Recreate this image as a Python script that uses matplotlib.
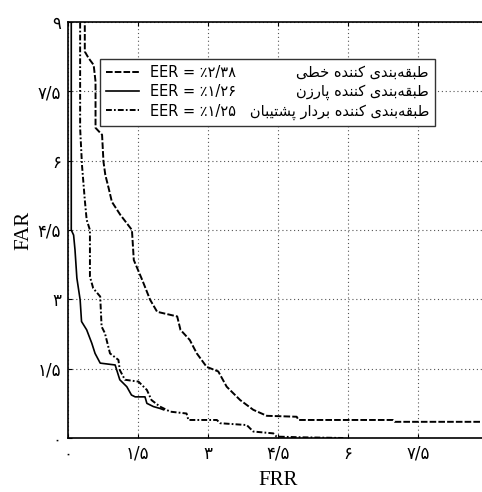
import numpy as np
import matplotlib
matplotlib.use('Agg')
import matplotlib.pyplot as plt

# DET curves (FRR on x, FAR on y)
lin_x = [0.36, 0.36, 0.44, 0.55, 0.59, 0.59, 0.73, 0.76, 0.80, 0.87, 0.94, 1.12, 1.34, 1.37,
         1.41, 1.59, 1.76, 1.91, 2.34, 2.41, 2.61, 2.76, 2.97, 3.22, 3.40, 3.69, 3.97, 4.26,
         4.90, 4.94, 6.96, 7.00, 9.00]
lin_y = [9.60, 8.36, 8.22, 8.07, 7.71, 6.71, 6.56, 5.98, 5.69, 5.41, 5.11, 4.83, 4.54, 4.50,
         3.85, 3.42, 2.99, 2.73, 2.63, 2.34, 2.12, 1.83, 1.54, 1.44, 1.11, 0.82, 0.61, 0.48,
         0.46, 0.39, 0.39, 0.35, 0.35]

parzen_x = [0.07, 0.07, 0.12, 0.15, 0.19, 0.26, 0.29, 0.40, 0.51, 0.58, 0.69, 1.01, 1.11,
            1.26, 1.36, 1.44, 1.65, 1.69, 1.83, 1.97, 2.05]
parzen_y = [9.60, 4.50, 4.39, 4.07, 3.46, 2.99, 2.52, 2.34, 2.05, 1.83, 1.62, 1.58, 1.26,
            1.11, 0.93, 0.89, 0.89, 0.75, 0.68, 0.64, 0.61]

svm_x = [0.26, 0.26, 0.30, 0.36, 0.40, 0.47, 0.47, 0.54, 0.69, 0.72, 0.79, 0.90, 1.08, 1.11,
         1.22, 1.51, 1.69, 1.79, 1.97, 2.19, 2.54, 2.58, 3.19, 3.26, 3.83, 3.97, 4.40, 4.47,
         5.00, 5.90]
svm_y = [9.60, 6.70, 5.90, 5.15, 4.72, 4.50, 3.49, 3.24, 3.06, 2.41, 2.27, 1.83, 1.69, 1.47,
         1.26, 1.22, 1.04, 0.82, 0.68, 0.57, 0.53, 0.39, 0.39, 0.32, 0.28, 0.14, 0.10, 0.03,
         0.015, 0.0]

names = ['طبقه‌بندی کننده خطی', 'طبقه‌بندی کننده پارزن', 'طبقه‌بندی کننده بردار پشتیبان']
eer = ['EER = ٪۲/۳۸', 'EER = ٪۱/۲۶', 'EER = ٪۱/۲۵']
ticks = [0, 1.5, 3, 4.5, 6, 7.5, 9]
tick_labels = ['۰', '۱/۵', '۳', '۴/۵', '۶', '۷/۵', '۹']

# matplotlib has no arabic shaping, so pick the joined forms by hand
FORMS = {
    'ا': ('\uFE8D', '\uFE8E', None, None),
    'ب': ('\uFE8F', '\uFE90', '\uFE91', '\uFE92'),
    'پ': ('\uFB56', '\uFB57', '\uFB58', '\uFB59'),
    'ت': ('\uFE95', '\uFE96', '\uFE97', '\uFE98'),
    'خ': ('\uFEA5', '\uFEA6', '\uFEA7', '\uFEA8'),
    'د': ('\uFEA9', '\uFEAA', None, None),
    'ر': ('\uFEAD', '\uFEAE', None, None),
    'ز': ('\uFEAF', '\uFEB0', None, None),
    'ش': ('\uFEB5', '\uFEB6', '\uFEB7', '\uFEB8'),
    'ط': ('\uFEC1', '\uFEC2', '\uFEC3', '\uFEC4'),
    'ق': ('\uFED5', '\uFED6', '\uFED7', '\uFED8'),
    'ک': ('\uFB8E', '\uFB8F', '\uFB90', '\uFB91'),
    'ن': ('\uFEE5', '\uFEE6', '\uFEE7', '\uFEE8'),
    'ه': ('\uFEE9', '\uFEEA', '\uFEEB', '\uFEEC'),
    'ی': ('\uFBFC', '\uFBFD', '\uFBFE', '\uFBFF'),
}


def shape(s):
    out = []
    for i, c in enumerate(s):
        if c not in FORMS:
            if c != '\u200c':
                out.append(c)
            continue
        prev = s[i - 1] if i > 0 else ''
        nxt = s[i + 1] if i + 1 < len(s) else ''
        jp = prev in FORMS and FORMS[prev][2] is not None
        jn = FORMS[c][2] is not None and nxt in FORMS
        idx = 3 if (jp and jn) else 1 if jp else 2 if jn else 0
        out.append(FORMS[c][idx])
    return ''.join(reversed(out))


fig = plt.figure(figsize=(4.82, 4.92), dpi=100)
ax = fig.add_axes([68 / 482, 54 / 492, 420 / 482, 416 / 492])

ax.plot(lin_x, lin_y, color='black', lw=1.4, dashes=(3.4, 1.1), label=eer[0])
ax.plot(parzen_x, parzen_y, color='black', lw=1.2, label=eer[1])
ax.plot(svm_x, svm_y, color='black', lw=1.4, dashes=(3.0, 1.1, 0.9, 1.1),
        label=eer[2] + '   ' + shape(names[2]))

ax.set_xlim(0, 9)
ax.set_ylim(0, 9)
ax.set_xticks(ticks)
ax.set_yticks(ticks)
ax.set_xticklabels(tick_labels, family='DejaVu Sans', fontsize=12)
ax.set_yticklabels(tick_labels, family='DejaVu Sans', fontsize=12)
ax.tick_params(direction='in', length=3, width=0.8, top=True, pad=5)
ax.grid(True, linestyle=(0, (1, 2.5)), color='#555555', lw=0.8)
for sp in ax.spines.values():
    sp.set_linewidth(1.2)

ax.set_xlabel('FRR', family='Liberation Serif', fontsize=15, labelpad=6)
ax.set_ylabel('FAR', family='Liberation Serif', fontsize=15, labelpad=3)

leg = ax.legend(loc='upper left', bbox_to_anchor=(100 / 482, 1 - 59 / 492),
                bbox_transform=fig.transFigure, borderaxespad=0,
                fancybox=False, edgecolor='#333333', framealpha=1,
                prop={'family': 'DejaVu Sans', 'size': 10.5},
                handlelength=2.3, handletextpad=0.7, labelspacing=0.3, borderpad=0.4)
leg.get_frame().set_linewidth(1.0)

# right-align the two shorter persian labels with the long one
fig.canvas.draw()
texts = leg.get_texts()
right = texts[2].get_window_extent().x1
for t, n in zip(texts[:2], names[:2]):
    bb = t.get_window_extent()
    fig.text(right, (bb.y0 + bb.y1) / 2, shape(n), transform=None,
             ha='right', va='center', family='DejaVu Sans', fontsize=10.5, zorder=10)

fig.savefig('out.png', dpi=100)
